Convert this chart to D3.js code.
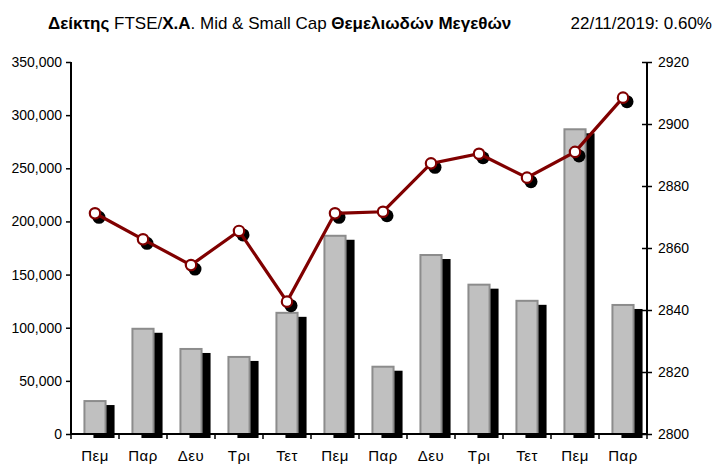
<!DOCTYPE html>
<html><head><meta charset="utf-8">
<script src="https://cdn.jsdelivr.net/npm/d3@7"></script>
<style>
body{margin:0;background:#fff;}
svg text{font-family:"Liberation Sans",Arial,sans-serif;fill:#000;}
</style></head>
<body><svg id="c" width="717" height="465"></svg>
<script>
const categories = ["Πεμ","Παρ","Δευ","Τρι","Τετ","Πεμ","Παρ","Δευ","Τρι","Τετ","Πεμ","Παρ"];
const volumes = [31000, 99000, 80000, 72500, 114000, 186500, 63300, 168400, 140500, 125300, 286700, 121400];
const indexValues = [2871.2, 2862.8, 2854.5, 2865.5, 2842.7, 2871.2, 2871.7, 2887.3, 2890.4, 2882.7, 2891.0, 2908.5];
const leftTicks = [0, 50000, 100000, 150000, 200000, 250000, 300000, 350000];
const rightTicks = [2800, 2820, 2840, 2860, 2880, 2900, 2920];
const titleParts = [["Δείκτης ", true], ["FTSE/", false], ["Χ.Α", true], [". Mid & Small Cap ", false], ["Θεμελιωδών Μεγεθών", true]];
const dateLabel = "22/11/2019: 0.60%";

const svg = d3.select("#c");
const L = 71, R = 647, T = 62, B = 434;
const x = d3.scaleBand().domain(d3.range(categories.length)).range([L, R]).padding(0);
const yL = d3.scaleLinear().domain([0, 350000]).range([B, T]);
const yR = d3.scaleLinear().domain([2800, 2920]).range([B, T]);
const bw = x.bandwidth() * 0.44;
const cx = i => x(i) + x.bandwidth() / 2;
const narrow = "'Liberation Sans Narrow','Arial Narrow','Liberation Sans',sans-serif";

// title
const title = svg.append("text").attr("x", 48).attr("y", 29)
  .style("font-family", narrow).style("font-size", "17px");
titleParts.forEach(p => title.append("tspan").text(p[0]).style("font-weight", p[1] ? "bold" : "normal"));
svg.append("text").attr("x", 712).attr("y", 29).attr("text-anchor", "end")
  .style("font-family", narrow).style("font-size", "17px").text(dateLabel);

// bar shadows
svg.append("g").selectAll("rect").data(volumes).join("rect")
  .attr("x", (d, i) => cx(i) - bw / 2 + 9).attr("y", d => yL(d) + 4)
  .attr("width", bw).attr("height", d => B - yL(d))
  .attr("fill", "#000");
// bars
svg.append("g").selectAll("rect").data(volumes).join("rect")
  .attr("x", (d, i) => cx(i) - bw / 2).attr("y", d => yL(d))
  .attr("width", bw).attr("height", d => B - yL(d))
  .attr("fill", "#c0c0c0").attr("stroke", "#8c8c8c").attr("stroke-width", 2);

// axes
const axL = svg.append("g").attr("transform", `translate(${L},0)`)
  .call(d3.axisLeft(yL).tickValues(leftTicks).tickSize(5).tickPadding(4).tickFormat(d3.format(",")));
const axR = svg.append("g").attr("transform", `translate(${R},0)`)
  .call(d3.axisRight(yR).tickValues(rightTicks).tickSize(5).tickPadding(6).tickFormat(d3.format("d")));
axR.selectAll(".tick line").attr("x1", -5);
const axB = svg.append("g").attr("transform", `translate(0,${B})`)
  .call(d3.axisBottom(x).tickSize(0).tickPadding(0).tickFormat(i => categories[i]));
svg.append("g").selectAll("line").data(d3.range(categories.length + 1)).join("line")
  .attr("x1", i => L + i * x.step()).attr("x2", i => L + i * x.step())
  .attr("y1", B).attr("y2", B + 5).attr("stroke", "#000").attr("stroke-width", 1.5);
[axL, axR, axB].forEach(a => {
  a.select(".domain").attr("stroke", "#000").attr("stroke-width", 2);
  a.selectAll(".tick line").attr("stroke", "#000").attr("stroke-width", 1.5);
  a.selectAll(".tick text").style("font-size", "14px").style("font-family", "'Liberation Sans',Arial,sans-serif");
});
axB.selectAll(".tick text").attr("y", 27).attr("dy", null).style("font-size", "15px").style("letter-spacing", "0.5px");
axL.select(".domain").attr("d", `M0,${T}V${B}`);
axR.select(".domain").attr("d", `M0,${T}V${B}`);
axB.select(".domain").attr("d", `M${L},0H${R}`);

// line shadows
svg.append("g").selectAll("circle").data(indexValues).join("circle")
  .attr("cx", (d, i) => cx(i) + 4).attr("cy", d => yR(d) + 4).attr("r", 6.5).attr("fill", "#000");
// line
svg.append("path").datum(indexValues)
  .attr("d", d3.line().x((d, i) => cx(i)).y(d => yR(d)))
  .attr("fill", "none").attr("stroke", "#800000").attr("stroke-width", 3.2);
// markers
svg.append("g").selectAll("circle").data(indexValues).join("circle")
  .attr("cx", (d, i) => cx(i)).attr("cy", d => yR(d)).attr("r", 5.2)
  .attr("fill", "#fff").attr("stroke", "#800000").attr("stroke-width", 2.2);
</script></body></html>
